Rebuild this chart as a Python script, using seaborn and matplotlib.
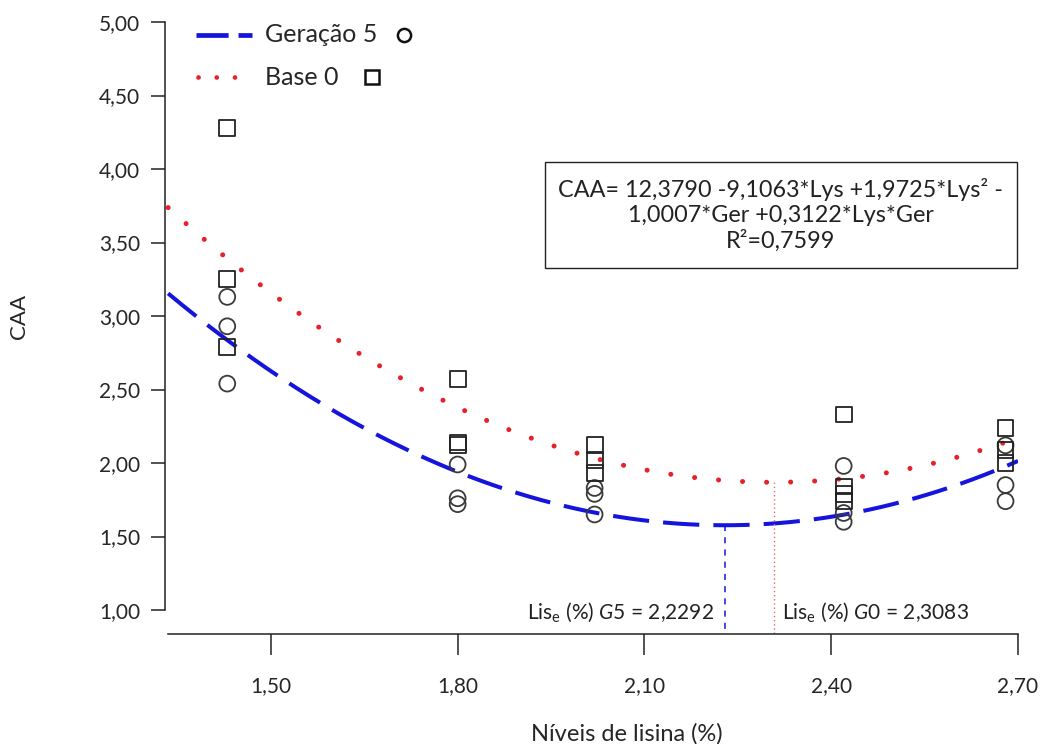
import numpy as np
import pandas as pd
import matplotlib
matplotlib.use("Agg")
import matplotlib.pyplot as plt
import seaborn as sns
from matplotlib.patches import Rectangle

# Lysine levels (%) tested
lys_levels = [1.43, 1.80, 2.02, 2.42, 2.68]

# Observed CAA, one list per lysine level
caa_g5 = [[3.13, 2.93, 2.54],
          [1.99, 1.76, 1.72],
          [1.83, 1.79, 1.65],
          [1.98, 1.66, 1.60],
          [2.12, 1.85, 1.74]]
caa_g0 = [[4.28, 3.25, 2.79],
          [2.57, 2.14, 2.12],
          [2.12, 2.02, 1.93],
          [2.33, 1.84, 1.79, 1.74],
          [2.24, 2.09, 2.00]]

# Fitted model: CAA = b0 + b1*Lys + b2*Lys^2 + b3*Ger + b4*Lys*Ger  (Ger: 0 = base, 1 = G5)
coef = [12.3790, -9.1063, 1.9725, -1.0007, 0.3122]
r2 = 0.7599
lys_opt = {"G5": 2.2292, "G0": 2.3083}
lys_span = [1.335, 2.70]

y_ticks = [1.00, 1.50, 2.00, 2.50, 3.00, 3.50, 4.00, 4.50, 5.00]
x_ticks = [1.50, 1.80, 2.10, 2.40, 2.70]

BLUE = "#1414dc"
RED = "#e8202a"
MARK = "#3a3a3a"


def comma(v, nd=2):
    return f"{v:.{nd}f}".replace(".", ",")


def model(lys, ger):
    b0, b1, b2, b3, b4 = coef
    return b0 + b1 * lys + b2 * lys ** 2 + b3 * ger + b4 * lys * ger


rows = []
for lv, g5, g0 in zip(lys_levels, caa_g5, caa_g0):
    rows += [{"lys": lv, "caa": v, "grupo": "G5"} for v in g5]
    rows += [{"lys": lv, "caa": v, "grupo": "G0"} for v in g0]
obs = pd.DataFrame(rows)

grid = np.linspace(lys_span[0], lys_span[1], 300)
fit = pd.DataFrame({
    "lys": np.concatenate([grid, grid]),
    "caa": np.concatenate([model(grid, 1), model(grid, 0)]),
    "grupo": ["G5"] * len(grid) + ["G0"] * len(grid),
})

sns.set_style("ticks")
plt.rcParams["font.family"] = ["Lato", "DejaVu Sans"]
plt.rcParams["mathtext.fontset"] = "custom"
plt.rcParams["mathtext.rm"] = "Lato"
plt.rcParams["mathtext.it"] = "Lato:italic"

fig = plt.figure(figsize=(10.45, 7.44), dpi=100)
ax = fig.add_axes([165 / 1045, 1 - 610 / 744, 853 / 1045, 588 / 744])

dash_g5 = (0, (9, 3.5))
dot_g0 = (0, (0.01, 4.8))

sns.lineplot(data=fit[fit.grupo == "G5"], x="lys", y="caa", color=BLUE, lw=2.9,
             ax=ax, legend=False)
ax.lines[-1].set_linestyle(dash_g5)
sns.lineplot(data=fit[fit.grupo == "G0"], x="lys", y="caa", color=RED, lw=3.6,
             ax=ax, legend=False)
ax.lines[-1].set_linestyle(dot_g0)
ax.lines[-1].set_dash_capstyle("round")

sns.scatterplot(data=obs[obs.grupo == "G5"], x="lys", y="caa", marker="o", s=130,
                facecolor="none", edgecolor=MARK, linewidth=1.3, ax=ax, zorder=3)
sns.scatterplot(data=obs[obs.grupo == "G0"], x="lys", y="caa", marker="s", s=130,
                facecolor="none", edgecolor="#222222", linewidth=1.3, ax=ax, zorder=3)

ax.set_xlim(1.330, 2.70)
ax.set_ylim(1.0, 5.0)
y_base = 1.0 - 24 / 147

# Optimum lysine markers
for key, color, ls, lw in [("G5", BLUE, (0, (4, 4)), 1.1), ("G0", "#e86a6a", (0, (1, 2)), 1.0)]:
    xo = lys_opt[key]
    yo = model(xo, 1 if key == "G5" else 0)
    ax.plot([xo, xo], [yo, y_base], color=color, ls=ls, lw=lw, clip_on=False, zorder=2)

ax.text(lys_opt["G5"] - 0.018, 0.985,
        r"Lis$_\mathrm{e}$ (%) $\mathit{G5}$ = " + comma(lys_opt["G5"], 4),
        ha="right", va="center", fontsize=15, color="#222222")
ax.text(lys_opt["G0"] + 0.012, 0.985,
        r"Lis$_\mathrm{e}$ (%) $\mathit{G0}$ = " + comma(lys_opt["G0"], 4),
        ha="left", va="center", fontsize=15, color="#222222")

# Equation box
ax.add_patch(Rectangle((0.4455, 0.582), 0.5533, 0.180, transform=ax.transAxes,
                       fill=False, edgecolor="#222222", lw=1.0, clip_on=False))
eq = (f"CAA= {comma(coef[0], 4)} {comma(coef[1], 4)}*Lys +{comma(coef[2], 4)}*Lys² -\n"
      f"{comma(-coef[3], 4)}*Ger +{comma(coef[4], 4)}*Lys*Ger\n"
      f"R²={comma(r2, 4)}")
ax.text(0.722, 0.672, eq, transform=ax.transAxes, ha="center", va="center",
        fontsize=16.8, linespacing=1.2, color="#222222")

# Legend
ly1, ly2 = 0.978, 0.906
x0, x1 = (196 - 165) / 853, (252 - 165) / 853
ax.plot([x0, x1], [ly1, ly1], transform=ax.transAxes, color=BLUE, lw=3.4,
        ls=(0, (6.8, 2.1)), clip_on=False)
ax.plot([x0 + 0.002, x1], [ly2, ly2], transform=ax.transAxes, color=RED, lw=3.4,
        ls=(0, (0.01, 3.85)), dash_capstyle="round", clip_on=False)
ax.text(0.117, ly1, "Geração 5", transform=ax.transAxes, ha="left", va="center", fontsize=18)
ax.text(0.117, ly2, "Base 0", transform=ax.transAxes, ha="left", va="center", fontsize=18)
ax.plot([0.280], [ly1], transform=ax.transAxes, marker="o", ms=9.5, mfc="none",
        mec="#111111", mew=1.8, clip_on=False)
ax.plot([0.243], [ly2], transform=ax.transAxes, marker="s", ms=9.5, mfc="none",
        mec="#111111", mew=1.8, clip_on=False)

# Axes styling
sns.despine(ax=ax)
ax.spines["bottom"].set_position(("outward", 17.3))
ax.spines["bottom"].set_bounds(1.335, 2.70)
ax.spines["left"].set_bounds(1.0, 5.0)
for s in ("bottom", "left"):
    ax.spines[s].set_color("#222222")
    ax.spines[s].set_linewidth(1.1)

ax.set_xticks(x_ticks)
ax.set_xticklabels([comma(v) for v in x_ticks])
ax.set_yticks(y_ticks)
ax.set_yticklabels([comma(v) for v in y_ticks])
ax.tick_params(axis="x", length=15, width=1.1, pad=15, labelsize=15, color="#222222")
ax.tick_params(axis="y", length=10, width=1.1, pad=8, labelsize=15, color="#222222")

ax.set_xlabel("Níveis de lisina (%)", fontsize=17)
ax.xaxis.set_label_coords((627 - 165) / 853, (610 - 723) / 588)
ax.set_ylabel("CAA", fontsize=16, labelpad=50)

fig.savefig("out.png", dpi=100)
